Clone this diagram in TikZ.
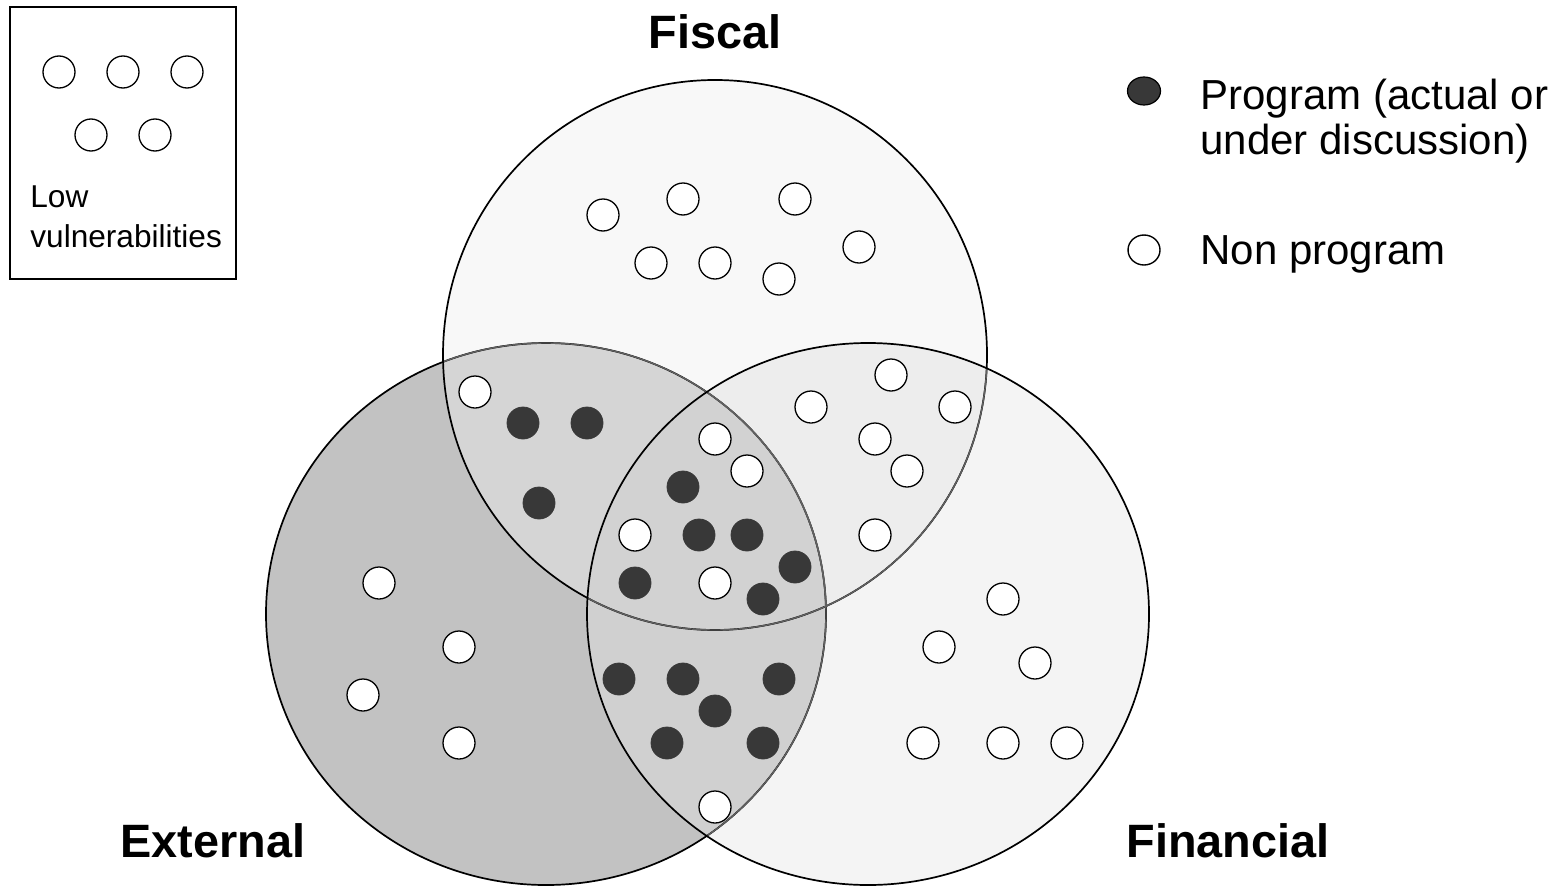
\documentclass[tikz,border=0pt]{standalone}
\usepackage{fontspec}
\setmainfont{Liberation Sans}
\usetikzlibrary{shapes.geometric}
\definecolor{eonly}{gray}{0.76}
\definecolor{efis}{gray}{0.835}
\definecolor{ctr}{gray}{0.825}
\definecolor{efin}{gray}{0.815}
\definecolor{fisfin}{gray}{0.93}
\definecolor{finonly}{gray}{0.955}
\definecolor{fisonly}{gray}{0.972}
\definecolor{dotdark}{HTML}{383838}
\definecolor{hidden}{gray}{0.38}
\tikzset{
  wdot/.style={circle,draw=black,line width=0.65pt,fill=white,minimum size=16pt,inner sep=0pt},
  bdot/.style={circle,draw=dotdark,line width=0.4pt,fill=dotdark,minimum size=16pt,inner sep=0pt},
  biglabel/.style={font=\fontsize{23.4pt}{26pt}\selectfont\bfseries,anchor=base,inner sep=0pt},
  legtext/.style={font=\fontsize{21pt}{21.5pt}\selectfont,anchor=base west,inner sep=0pt},
  boxtext/.style={font=\fontsize{15.8pt}{20pt}\selectfont,anchor=base west,inner sep=0pt},
  outline/.style={draw=black,line width=0.85pt},
  covered/.style={draw=hidden,line width=0.7pt}
}
\def\FisPath{(715,355) ellipse [x radius=136pt, y radius=137.5pt]}
\def\EPath{(546,614) ellipse [x radius=140pt, y radius=135.5pt]}
\def\FinPath{(868,614) ellipse [x radius=140.5pt, y radius=135.5pt]}
\begin{document}
\begin{tikzpicture}[x=0.5pt,y=-0.5pt]
\useasboundingbox (0,0) rectangle (1561,888);
% region fills
\fill[fisonly] \FisPath;
\fill[finonly] \FinPath;
\fill[eonly] \EPath;
\begin{scope}
  \clip \FisPath;
  \fill[fisfin] \FinPath;
  \fill[efis] \EPath;
\end{scope}
\begin{scope}
  \clip \EPath;
  \fill[efin] \FinPath;
  \begin{scope}
    \clip \FisPath;
    \fill[ctr] \FinPath;
  \end{scope}
\end{scope}
% outlines
\draw[outline] \EPath;
\begin{scope}
  \clip \FisPath;
  \draw[covered] \EPath;
\end{scope}
\draw[outline] \FisPath;
\begin{scope}
  \clip \FinPath;
  \draw[covered] \EPath;
  \draw[covered] \FisPath;
\end{scope}
\draw[outline] \FinPath;
% legend box
\draw[line width=0.6pt] (10,7) rectangle (236,279);
\foreach \p [count=\i] in {(59,72),(123,72),(187,72),(91,135),(155,135)}
  \node[wdot] (lb\i) at \p {};
\node[boxtext] (low) at (30,207) {Low};
\node[boxtext] (vul) at (30,247) {vulnerabilities};
% white dots
\foreach \p [count=\i] in {
  (603,215),(683,199),(795,199),(859,247),(651,263),(715,263),(779,279),
  (891,375),(811,407),(955,407),(875,439),(907,471),(875,535),
  (475,392),
  (715,439),(747,471),(635,535),(715,583),
  (715,807),
  (379,583),(459,647),(363,695),(459,743),
  (1003,599),(939,647),(1035,663),(923,743),(1003,743),(1067,743)}
  \node[wdot] (w\i) at \p {};
% black dots
\foreach \p [count=\i] in {
  (523,423),(587,423),(539,503),
  (683,487),(699,535),(747,535),(795,567),(635,583),(763,599),
  (619,679),(683,679),(779,679),(715,711),(667,743),(763,743)}
  \node[bdot] (b\i) at \p {};
% set labels
\node[biglabel] (fiscal) at (715,49) {Fiscal};
\node[biglabel] (external) at (213,857) {External};
\node[biglabel] (financial) at (1228,857) {Financial};
% legend
\node[ellipse,draw=black,line width=0.6pt,fill=dotdark,minimum width=16.5pt,minimum height=14pt,inner sep=0pt] (legprog) at (1144,91) {};
\node[ellipse,draw=black,line width=0.7pt,fill=white,minimum width=16pt,minimum height=15pt,inner sep=0pt] (legnon) at (1144,250) {};
\node[legtext] (prog1) at (1200,110) {Program (actual or};
\node[legtext] (prog2) at (1200,155) {under discussion)};
\node[legtext] (non) at (1200,264) {Non program};
\end{tikzpicture}
\end{document}
